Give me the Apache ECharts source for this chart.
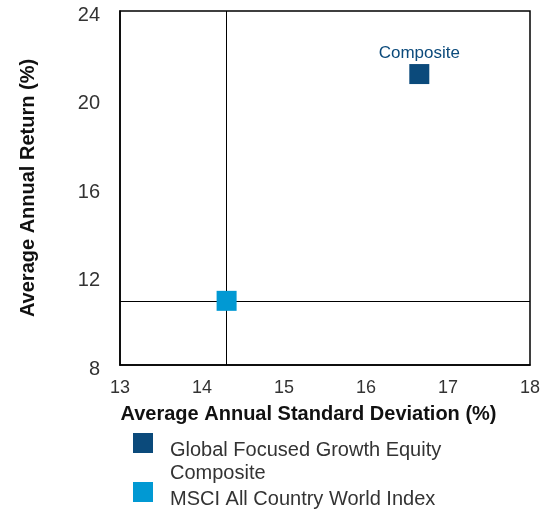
<!DOCTYPE html>
<html><head><meta charset="utf-8">
<script src="https://cdn.jsdelivr.net/npm/echarts@6/dist/echarts.min.js"></script>
<style>html,body{margin:0;padding:0;background:#fff}#c{width:544px;height:511px}</style>
</head><body><div id="c"></div>
<script>
const seriesNames = ['Global Focused Growth Equity Composite', 'MSCI All Country World Index'];
const legendLines = [['Global Focused Growth Equity', 'Composite'], ['MSCI All Country World Index']];
const stdDev = [16.65, 14.30];
const annReturn = [21.15, 10.9];
const colors = ['#0b4a7b', '#0199d3'];
const pointLabels = ['Composite', ''];
const xTicks = [13, 14, 15, 16, 17, 18];
const yTicks = [8, 12, 16, 20, 24];

const chart = echarts.init(document.getElementById('c'));
const series = seriesNames.map((n, i) => ({
  name: n, type: 'scatter', symbol: 'rect', symbolSize: 20,
  itemStyle: { color: colors[i], opacity: 1 },
  data: [[stdDev[i], annReturn[i]]],
  z: 5,
  label: { show: !!pointLabels[i], formatter: pointLabels[i], position: 'top', distance: 2,
    color: colors[i], fontSize: 17, fontFamily: 'Liberation Sans Narrow, Arial Narrow, Liberation Sans, sans-serif' },
}));
series[1].markLine = {
  silent: true, symbol: ['none', 'none'], label: { show: false },
  lineStyle: { color: '#000', width: 1, type: 'solid' },
  data: [{ xAxis: stdDev[1] }, { yAxis: annReturn[1] }],
  z: 1
};
const legendGraphics = [];
const legendTop = [433, 482];
seriesNames.forEach((n, i) => {
  const y = legendTop[i];
  legendGraphics.push({ type: 'rect', left: 133, top: y, shape: { width: 20, height: 20 }, style: { fill: colors[i] } });
  legendLines[i].forEach((t, j) => {
    legendGraphics.push({ type: 'text', left: 170, top: y + 7 + j * 23, style: { text: t, fill: '#333', font: '20px "Liberation Sans", Arial, sans-serif' } });
  });
});
chart.setOption({
  animation: false,
  grid: { left: 120, top: 11, right: 14, bottom: 146, show: true, borderColor: '#000', borderWidth: 1.5 },
  xAxis: {
    type: 'value', min: 13, max: 18, interval: 1,
    name: 'Average Annual Standard Deviation (%)', nameLocation: 'middle', nameGap: 39,
    nameTextStyle: { fontWeight: 'bold', fontSize: 20, color: '#111', fontFamily: 'Liberation Sans, Arial, sans-serif', padding: [0, 33, 0, 0] },
    axisLine: { show: true, lineStyle: { color: '#000', width: 1.5 } }, axisTick: { show: false },
    splitLine: { show: false },
    axisLabel: { color: '#333', fontSize: 18, margin: 14, fontFamily: 'Liberation Sans, Arial, sans-serif',
      formatter: v => xTicks.includes(v) ? String(v) : '' }
  },
  yAxis: {
    type: 'value', min: 8, max: 24, interval: 4,
    name: 'Average Annual Return (%)', nameLocation: 'middle', nameGap: 82,
    nameTextStyle: { fontWeight: 'bold', fontSize: 20, color: '#111', fontFamily: 'Liberation Sans, Arial, sans-serif' },
    axisLine: { show: true, lineStyle: { color: '#000', width: 1.5 } }, axisTick: { show: false },
    splitLine: { show: false },
    axisLabel: { color: '#333', fontSize: 20, margin: 20, verticalAlign: 'top', lineHeight: 8, fontFamily: 'Liberation Sans, Arial, sans-serif',
      formatter: v => yTicks.includes(v) ? String(v) : '' }
  },
  series: series,
  graphic: legendGraphics
});
</script></body></html>
